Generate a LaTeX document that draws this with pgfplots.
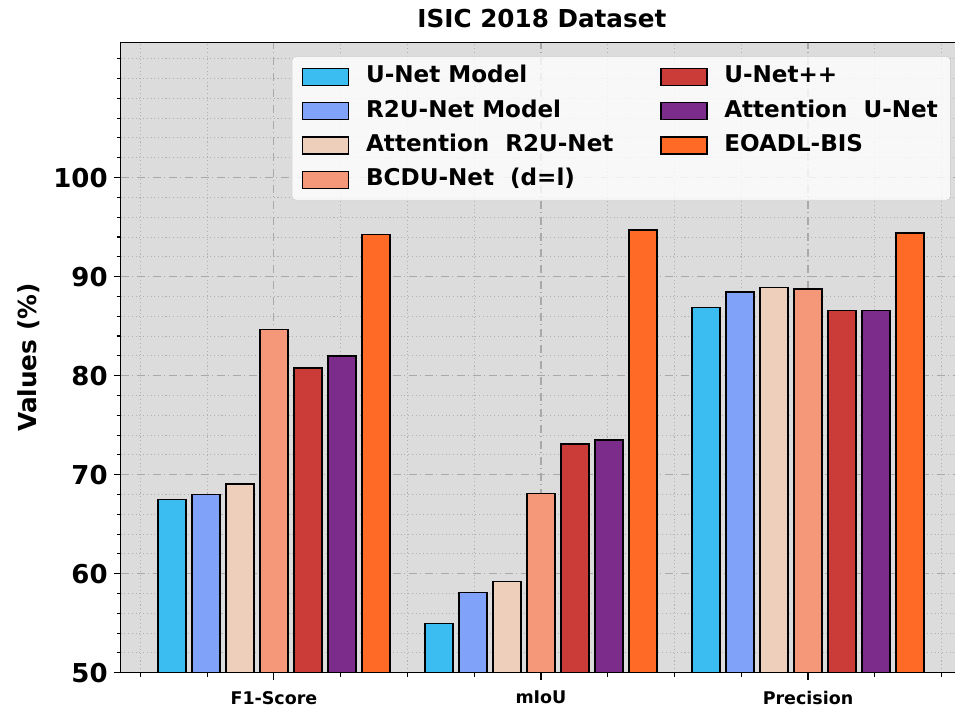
\documentclass[border=0pt]{standalone}
\usepackage{pgfplots}
\pgfplotsset{compat=1.18}
\usepackage{pgfplotstable}
\usepackage{fontspec}
\setmainfont{DejaVu Sans}

\definecolor{cUNet}{HTML}{3BBDF2}
\definecolor{cRTwoU}{HTML}{80A2F9}
\definecolor{cAttRTwoU}{HTML}{EDCFBB}
\definecolor{cBCDU}{HTML}{F5987A}
\definecolor{cUNetPP}{HTML}{CB3B37}
\definecolor{cAttUNet}{HTML}{7C2D8B}
\definecolor{cEOADL}{HTML}{FF6A27}
\definecolor{plotbg}{HTML}{DCDCDC}
\definecolor{gridc}{HTML}{A9A9A9}

% metric index: 0 = F1-Score, 1 = mIoU, 2 = Precision
\pgfplotstableread{
x  unet   rtwou  attrtwou bcdu   unetpp attunet eoadl
0  67.47  67.97  69.06    84.66  80.75  81.99   94.25
1  54.95  58.08  59.20    68.10  73.10  73.50   94.70
2  86.87  88.45  88.90    88.75  86.55  86.60   94.40
}\scores

\pgfplotsset{
  barstyle/.style={draw=black, line width=1.1pt},
}

\begin{document}
\begin{tikzpicture}
\useasboundingbox (-90.5pt,-26.25pt) rectangle (625.7pt,504.5pt);
\begin{axis}[
  at={(0pt,0pt)}, anchor=south west,
  scale only axis, width=635.6pt, height=472.7pt,
  xmin=-0.574, xmax=2.6, ymin=50, ymax=113.65,
  ybar, bar width=0.1055,
  axis background/.style={fill=plotbg},
  axis line style={line width=1.1pt},
  xtick={0,1,2},
  xticklabels={F1-Score, mIoU, Precision},
  minor xtick={-0.5,-0.25,0.25,0.5,0.75,1.25,1.5,1.75,2.25,2.5},
  ytick={50,60,...,100},
  minor ytick={52,54,56,58,62,64,66,68,72,74,76,78,82,84,86,88,92,94,96,98,102,104,106,108,110,112},
  tick pos=left, tick align=outside,
  major tick length=5.25pt, minor tick length=3pt,
  every tick/.style={black, line width=0.8pt},
  grid=both,
  major grid style={gridc, line width=0.8pt, dash pattern=on 6pt off 2.5pt on 1pt off 2.5pt},
  minor grid style={gridc!90, line width=0.7pt, dash pattern=on 0.8pt off 2pt},
  /pgf/number format/assume math mode=true,
  yticklabel style={font=\fontsize{19.5}{20}\selectfont\bfseries, xshift=-1pt},
  xticklabel style={font=\fontsize{13.1}{14}\selectfont\bfseries, yshift=-5pt},
  ylabel={Values (\%)},
  every axis y label/.style={at={(axis description cs:-0.1086,0.5)}, rotate=90, anchor=center,
    font=\fontsize{18.6}{20}\selectfont\bfseries},
  title={ISIC 2018 Dataset},
  every axis title/.style={at={(axis description cs:0.497,1)}, anchor=base, yshift=11pt,
    font=\fontsize{18.5}{20}\selectfont\bfseries},
  legend columns=2,
  legend cell align=left,
  legend image code/.code={\draw[#1, sharp corners, fill opacity=1, draw opacity=1, line width=1.1pt]
    (0pt,-6.4pt) rectangle (34.5pt,6.4pt);},
  legend style={
    at={(axis description cs:0.9794,0.9778)}, anchor=north east,
    fill=white, fill opacity=0.8, text opacity=1, draw=black!18, rounded corners=3pt,
    font=\fontsize{17.3}{18}\selectfont\bfseries,
    inner xsep=7.5pt, inner ysep=5pt,
    row sep=5.6pt,
    nodes={inner sep=2pt, text height=12.6pt, text depth=3.6pt},
    /tikz/every odd column/.append style={column sep=10.5pt},
    /tikz/every even column/.append style={column sep=33pt},
  },
]
\addplot[barstyle, fill=cUNet,     bar shift=-0.3819, forget plot] table[x=x, y=unet]     {\scores};
\addplot[barstyle, fill=cRTwoU,    bar shift=-0.2546, forget plot] table[x=x, y=rtwou]    {\scores};
\addplot[barstyle, fill=cAttRTwoU, bar shift=-0.1273, forget plot] table[x=x, y=attrtwou] {\scores};
\addplot[barstyle, fill=cBCDU,     bar shift=0,       forget plot] table[x=x, y=bcdu]     {\scores};
\addplot[barstyle, fill=cUNetPP,   bar shift=0.1273,  forget plot] table[x=x, y=unetpp]   {\scores};
\addplot[barstyle, fill=cAttUNet,  bar shift=0.2546,  forget plot] table[x=x, y=attunet]  {\scores};
\addplot[barstyle, fill=cEOADL,    bar shift=0.3819,  forget plot] table[x=x, y=eoadl]    {\scores};

% legend laid out column by column, two columns
\addlegendimage{fill=cUNet}     \addlegendentry{U-Net Model}
\addlegendimage{fill=cUNetPP}   \addlegendentry{U-Net++}
\addlegendimage{fill=cRTwoU}    \addlegendentry{R2U-Net Model}
\addlegendimage{fill=cAttUNet}  \addlegendentry{Attention\ \ U-Net}
\addlegendimage{fill=cAttRTwoU} \addlegendentry{Attention\ \ R2U-Net}
\addlegendimage{fill=cEOADL}    \addlegendentry{EOADL-BIS}
\addlegendimage{fill=cBCDU}     \addlegendentry{BCDU-Net\ \ (d=l)}
\end{axis}
\end{tikzpicture}
\end{document}
